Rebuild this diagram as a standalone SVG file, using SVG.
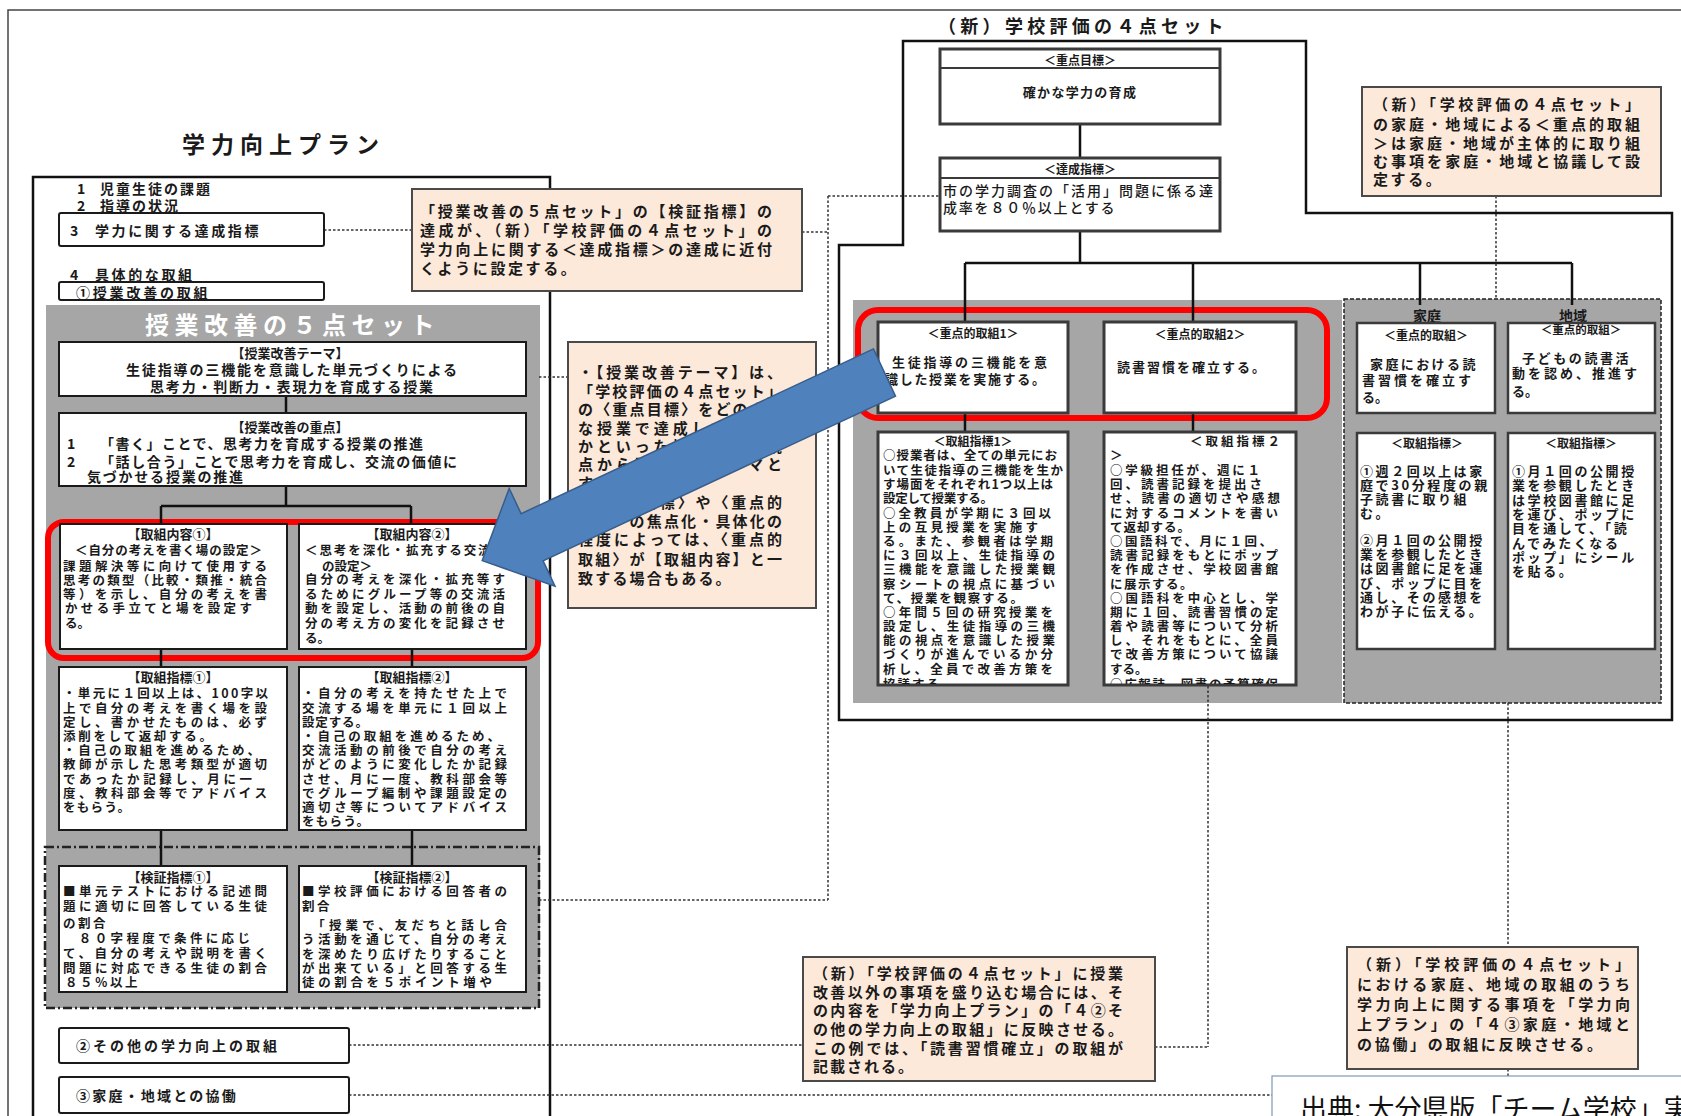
<svg xmlns="http://www.w3.org/2000/svg" width="1681" height="1116" viewBox="0 0 1681 1116">
<style>
.j{font-family:"Noto Sans CJK JP","Noto Sans CJK SC",sans-serif;font-weight:700;fill:#1a1a1a;dominant-baseline:central}
.f12{font-size:12px}.f125{font-size:12.5px}.f13{font-size:13px}.f14{font-size:14px}.f15{font-size:15px}
.c{text-anchor:middle}
.box{fill:#fff;stroke:#1a1a1a;stroke-width:2}
.rbox{fill:#fff;stroke:#3a3a3a;stroke-width:3}
.call{fill:#fce9da;stroke:#4a4a4a;stroke-width:2}
.ln{stroke:#111;stroke-width:2.5;fill:none}
.dot{stroke:#333;stroke-width:1.5;stroke-dasharray:2.5 2;fill:none}
.red{fill:none;stroke:#ff0000;stroke-width:6}
.gray{fill:#a6a6a6}
.ls{letter-spacing:2.6px}
</style>
<defs>
<clipPath id="cp1"><rect x="878" y="432" width="190" height="252"/></clipPath>
<clipPath id="cp2"><rect x="1104" y="432" width="192" height="252"/></clipPath>
</defs>
<rect width="1681" height="1116" fill="#fff"/>
<g id="outer-frame">
<path d="M8 1116 V10 H1681" fill="none" stroke="#444" stroke-width="1.5"/>
</g>
<g id="left-title"><text class="j" x="182" y="143" style="font-size:23px;letter-spacing:6px">学力向上プラン</text></g>
<g id="left-frame"><rect x="33" y="177" width="517" height="960" fill="none" stroke="#111" stroke-width="2.5"/></g>
<g id="right-title"><text class="j" x="938" y="25" style="font-size:18px;letter-spacing:4.3px">（新）学校評価の４点セット</text></g>
<g id="right-frame"><path d="M903 41 H1306 V213 H1672 V720 H839 V245 H903 Z" class="ln"/></g>
<g id="panels">
<rect class="gray" x="46" y="305" width="494" height="703"/>
<rect x="45" y="847" width="494" height="161" fill="none" stroke="#222" stroke-width="2.5" stroke-dasharray="9 3 2 3"/>
<rect class="gray" x="853" y="300" width="489" height="403"/>
<rect class="gray" x="1344" y="299" width="317" height="404" stroke="#222" stroke-width="1.5" stroke-dasharray="4 2"/>
<text class="j" x="145" y="323" style="font-size:24px;letter-spacing:5.5px;fill:#fff">授業改善の５点セット</text>
</g>
<g id="highlights">
<rect class="red" x="48" y="522" width="490" height="136" rx="16"/>
<rect class="red" x="858" y="310" width="469" height="108" rx="20"/>
</g>
<g id="connectors">
<path class="ln" d="M286 396 V413 M286 486 V506 M161 506 H411 M161 506 V524 M411 506 V524 M161 649 V667 M412 649 V667 M161 830 V866 M412 830 V866"/>
<path class="ln" d="M1080 124 V158 M1080 231 V263 M965 263 H1572 M965 263 V322 M1193 263 V322 M1420 263 V305 M1572 263 V305 M965 413 V432 M1193 413 V432"/>
<path class="dot" d="M324 230 H412 M802 232 H828 M828 196 V900 M828 196 H940 M539 900 H828 M539 377 H568 M349 1045 H803 M1155 1047 H1208 M1208 686 V1047 M349 1095 H1272 M1496 196 V299 M1508 703 V947 M1508 1069 V1076"/>
</g>
<g id="n-item12">
<text class="j f14" x="77" y="188">1</text><text class="j f14" x="100" y="188" style="letter-spacing:2px">児童生徒の課題</text>
<text class="j f14" x="77" y="205">2</text><text class="j f14" x="100" y="205" style="letter-spacing:2px">指導の状況</text>
</g>
<g id="n-item3"><rect class="box" x="59" y="213" width="265" height="33" rx="2"/>
<text class="j f14" x="70" y="230">3</text><text class="j f14" x="95" y="230" style="letter-spacing:2.6px">学力に関する達成指標</text></g>
<g id="n-item4"><text class="j f14" x="70" y="274">4</text><text class="j f14" x="95" y="274" style="letter-spacing:2.6px">具体的な取組</text></g>
<g id="n-item4-1"><rect class="box" x="59" y="282" width="265" height="18" rx="2"/>
<text class="j f14" x="76" y="292" style="letter-spacing:2.8px">①授業改善の取組</text></g>
<g id="n-theme"><rect class="box" x="59" y="342" width="467" height="54"/>
<text class="j f13 c" x="290" y="352">【授業改善テーマ】</text>
<text class="j f14" x="126" y="369" textLength="331" lengthAdjust="spacing">生徒指導の三機能を意識した単元づくりによる</text>
<text class="j f14" x="150" y="386" textLength="283" lengthAdjust="spacing">思考力・判断力・表現力を育成する授業</text></g>
<g id="n-focus"><rect class="box" x="59" y="413" width="467" height="73"/>
<text class="j f13 c" x="290" y="426">【授業改善の重点】</text>
<text class="j f14" x="67" y="443">1</text><text class="j f14" x="100" y="443" textLength="323" lengthAdjust="spacing">「書く」ことで、思考力を育成する授業の推進</text>
<text class="j f14" x="67" y="461">2</text><text class="j f14" x="100" y="461" textLength="357" lengthAdjust="spacing">「話し合う」ことで思考力を育成し、交流の価値に</text>
<text class="j f14" x="87" y="476" textLength="156" lengthAdjust="spacing">気づかせる授業の推進</text></g>
<g id="n-content1"><rect class="box" x="60" y="524" width="227" height="125"/>
<text class="j f13 c" x="173" y="533">【取組内容①】</text>
<text class="j f125" x="75" y="549" textLength="187" lengthAdjust="spacing">＜自分の考えを書く場の設定＞</text>
<text class="j f125" x="63" y="565" textLength="204" lengthAdjust="spacing">課題解決等に向けて使用する</text>
<text class="j f125" x="63" y="579" textLength="204" lengthAdjust="spacing">思考の類型（比較・類推・統合</text>
<text class="j f125" x="63" y="593" textLength="204" lengthAdjust="spacing">等）を示し、自分の考えを書</text>
<text class="j f125" x="65" y="607" textLength="187" lengthAdjust="spacing">かせる手立てと場を設定す</text>
<text class="j f125" x="65" y="622">る。</text></g>
<g id="n-content2"><rect class="box" x="299" y="524" width="227" height="125"/>
<text class="j f13 c" x="412" y="533">【取組内容②】</text>
<text class="j f125" x="305" y="549" textLength="200" lengthAdjust="spacing">＜思考を深化・拡充する交流場</text>
<text class="j f125" x="322" y="565">の設定＞</text>
<text class="j f125" x="305" y="578" textLength="200" lengthAdjust="spacing">自分の考えを深化・拡充等す</text>
<text class="j f125" x="305" y="593" textLength="200" lengthAdjust="spacing">るためにグループ等の交流活</text>
<text class="j f125" x="305" y="607" textLength="200" lengthAdjust="spacing">動を設定し、活動の前後の自</text>
<text class="j f125" x="305" y="622" textLength="200" lengthAdjust="spacing">分の考え方の変化を記録させ</text>
<text class="j f125" x="305" y="637">る。</text></g>
<g id="n-index1"><rect class="box" x="59" y="667" width="228" height="163"/>
<text class="j f13 c" x="173" y="676">【取組指標①】</text>
<text class="j f125" x="63" y="692" textLength="205" lengthAdjust="spacing">・単元に１回以上は、100字以</text>
<text class="j f125" x="63" y="707" textLength="204" lengthAdjust="spacing">上で自分の考えを書く場を設</text>
<text class="j f125" x="63" y="721" textLength="204" lengthAdjust="spacing">定し、書かせたものは、必ず</text>
<text class="j f125" x="63" y="735" textLength="149" lengthAdjust="spacing">添削をして返却する。</text>
<text class="j f125" x="63" y="749" textLength="197" lengthAdjust="spacing">・自己の取組を進めるため、</text>
<text class="j f125" x="63" y="763" textLength="204" lengthAdjust="spacing">教師が示した思考類型が適切</text>
<text class="j f125" x="63" y="778" textLength="189" lengthAdjust="spacing">であったか記録し、月に一</text>
<text class="j f125" x="63" y="792" textLength="204" lengthAdjust="spacing">度、教科部会等でアドバイス</text>
<text class="j f125" x="63" y="806" textLength="67" lengthAdjust="spacing">をもらう。</text></g>
<g id="n-index2"><rect class="box" x="299" y="667" width="227" height="163"/>
<text class="j f13 c" x="412" y="676">【取組指標②】</text>
<text class="j f125" x="302" y="692" textLength="205" lengthAdjust="spacing">・自分の考えを持たせた上で</text>
<text class="j f125" x="302" y="707" textLength="205" lengthAdjust="spacing">交流する場を単元に１回以上</text>
<text class="j f125" x="302" y="721" textLength="66" lengthAdjust="spacing">設定する。</text>
<text class="j f125" x="302" y="735" textLength="198" lengthAdjust="spacing">・自己の取組を進めるため、</text>
<text class="j f125" x="302" y="749" textLength="205" lengthAdjust="spacing">交流活動の前後で自分の考え</text>
<text class="j f125" x="302" y="763" textLength="205" lengthAdjust="spacing">がどのように変化したか記録</text>
<text class="j f125" x="302" y="778" textLength="205" lengthAdjust="spacing">させ、月に一度、教科部会等</text>
<text class="j f125" x="302" y="792" textLength="205" lengthAdjust="spacing">でグループ編制や課題設定の</text>
<text class="j f125" x="302" y="806" textLength="205" lengthAdjust="spacing">適切さ等についてアドバイス</text>
<text class="j f125" x="302" y="820" textLength="67" lengthAdjust="spacing">をもらう。</text></g>
<g id="n-verify1"><rect class="box" x="59" y="866" width="228" height="126"/>
<text class="j f13 c" x="173" y="876">【検証指標①】</text>
<text class="j f125" x="63" y="890" textLength="204" lengthAdjust="spacing">■単元テストにおける記述問</text>
<text class="j f125" x="63" y="905" textLength="204" lengthAdjust="spacing">題に適切に回答している生徒</text>
<text class="j f125" x="63" y="922" style="letter-spacing:2.5px">の割合</text>
<text class="j f125" x="63" y="937" textLength="187" lengthAdjust="spacing">　８０字程度で条件に応じ</text>
<text class="j f125" x="63" y="952" textLength="204" lengthAdjust="spacing">て、自分の考えや説明を書く</text>
<text class="j f125" x="63" y="967" textLength="204" lengthAdjust="spacing">問題に対応できる生徒の割合</text>
<text class="j f125" x="65" y="981" style="letter-spacing:2.5px">８５％以上</text></g>
<g id="n-verify2"><rect class="box" x="299" y="866" width="227" height="126"/>
<text class="j f13 c" x="412" y="876">【検証指標②】</text>
<text class="j f125" x="302" y="890" textLength="205" lengthAdjust="spacing">■学校評価における回答者の</text>
<text class="j f125" x="302" y="905" style="letter-spacing:2.5px">割合</text>
<text class="j f125" x="302" y="924" textLength="205" lengthAdjust="spacing">　「授業で、友だちと話し合</text>
<text class="j f125" x="302" y="938" textLength="205" lengthAdjust="spacing">う活動を通じて、自分の考え</text>
<text class="j f125" x="302" y="953" textLength="205" lengthAdjust="spacing">を深めたり広げたりすること</text>
<text class="j f125" x="302" y="967" textLength="205" lengthAdjust="spacing">が出来ている」と回答する生</text>
<text class="j f125" x="302" y="981" textLength="190" lengthAdjust="spacing">徒の割合を５ポイント増や</text></g>
<g id="n-other"><rect class="box" x="59" y="1028" width="290" height="35" rx="2"/>
<text class="j f14" x="76" y="1045" style="letter-spacing:3px">②その他の学力向上の取組</text></g>
<g id="n-home"><rect class="box" x="59" y="1077" width="290" height="36" rx="2"/>
<text class="j f14" x="76" y="1095" style="letter-spacing:2.2px">③家庭・地域との協働</text></g>
<g id="n-goal"><rect class="rbox" x="940" y="49" width="280" height="75"/><line x1="940" y1="68" x2="1220" y2="68" stroke="#3a3a3a" stroke-width="2"/>
<text class="j f12 c" x="1080" y="59">＜重点目標＞</text>
<text class="j f13 c" x="1080" y="91" style="letter-spacing:1.3px">確かな学力の育成</text></g>
<g id="n-target"><rect class="rbox" x="940" y="158" width="280" height="73"/><line x1="940" y1="178" x2="1220" y2="178" stroke="#3a3a3a" stroke-width="2"/>
<text class="j f12 c" x="1080" y="168">＜達成指標＞</text>
<text class="j f14" x="943" y="190" style="font-weight:500" textLength="270" lengthAdjust="spacing">市の学力調査の「活用」問題に係る達</text>
<text class="j f14" x="943" y="207" style="font-weight:500;letter-spacing:1.8px">成率を８０％以上とする</text></g>
<g id="n-key1"><rect class="rbox" x="878" y="322" width="190" height="91"/>
<text class="j f12 c" x="973" y="332">＜重点的取組1＞</text>
<text class="j f13" x="892" y="361" textLength="155" lengthAdjust="spacing">生徒指導の三機能を意</text>
<text class="j f13" x="885" y="378" textLength="160" lengthAdjust="spacing">識した授業を実施する。</text></g>
<g id="n-key2"><rect class="rbox" x="1104" y="322" width="192" height="91"/>
<text class="j f12 c" x="1200" y="333">＜重点的取組2＞</text>
<text class="j f13" x="1117" y="366" textLength="148" lengthAdjust="spacing">読書習慣を確立する。</text></g>
<g id="n-kidx1"><rect class="rbox" x="878" y="432" width="190" height="253"/>
<g clip-path="url(#cp1)">
<text class="j f12 c" x="973" y="440">＜取組指標1＞</text>
<text class="j f125" x="883" y="454" textLength="174" lengthAdjust="spacing">○授業者は、全ての単元にお</text>
<text class="j f125" x="883" y="469" textLength="180" lengthAdjust="spacing">いて生徒指導の三機能を生か</text>
<text class="j f125" x="883" y="483" textLength="170" lengthAdjust="spacing">す場面をそれぞれ1つ以上は</text>
<text class="j f125" x="883" y="497" textLength="110" lengthAdjust="spacing">設定して授業する。</text>
<text class="j f125" x="883" y="512" textLength="168" lengthAdjust="spacing">○全教員が学期に３回以</text>
<text class="j f125" x="883" y="526" textLength="155" lengthAdjust="spacing">上の互見授業を実施す</text>
<text class="j f125" x="883" y="540" textLength="170" lengthAdjust="spacing">る。また、参観者は学期</text>
<text class="j f125" x="883" y="554" textLength="172" lengthAdjust="spacing">に３回以上、生徒指導の</text>
<text class="j f125" x="883" y="568" textLength="172" lengthAdjust="spacing">三機能を意識した授業観</text>
<text class="j f125" x="883" y="583" textLength="172" lengthAdjust="spacing">察シートの視点に基づい</text>
<text class="j f125" x="883" y="597" textLength="140" lengthAdjust="spacing">て、授業を観察する。</text>
<text class="j f125" x="883" y="611" textLength="170" lengthAdjust="spacing">○年間５回の研究授業を</text>
<text class="j f125" x="883" y="625" textLength="172" lengthAdjust="spacing">設定し、生徒指導の三機</text>
<text class="j f125" x="883" y="639" textLength="172" lengthAdjust="spacing">能の視点を意識した授業</text>
<text class="j f125" x="883" y="653" textLength="170" lengthAdjust="spacing">づくりが進んでいるか分</text>
<text class="j f125" x="883" y="668" textLength="170" lengthAdjust="spacing">析し、全員で改善方策を</text>
<text class="j f125" x="883" y="683" style="letter-spacing:2px">協議する。</text></g></g>
<g id="n-kidx2"><rect class="rbox" x="1104" y="432" width="192" height="253"/>
<g clip-path="url(#cp2)">
<text class="j f125" x="1190" y="440" textLength="90" lengthAdjust="spacing">＜取組指標２</text>
<text class="j f125" x="1110" y="454">＞</text>
<text class="j f125" x="1110" y="469" textLength="150" lengthAdjust="spacing">○学級担任が、週に１</text>
<text class="j f125" x="1110" y="483" textLength="152" lengthAdjust="spacing">回、読書記録を提出さ</text>
<text class="j f125" x="1110" y="497" textLength="170" lengthAdjust="spacing">せ、読書の適切さや感想</text>
<text class="j f125" x="1110" y="512" textLength="168" lengthAdjust="spacing">に対するコメントを書い</text>
<text class="j f125" x="1110" y="526" style="letter-spacing:1px">て返却する。</text>
<text class="j f125" x="1110" y="540" textLength="162" lengthAdjust="spacing">○国語科で、月に１回、</text>
<text class="j f125" x="1110" y="554" textLength="168" lengthAdjust="spacing">読書記録をもとにポップ</text>
<text class="j f125" x="1110" y="568" textLength="168" lengthAdjust="spacing">を作成させ、学校図書館</text>
<text class="j f125" x="1110" y="583" style="letter-spacing:1.5px">に展示する。</text>
<text class="j f125" x="1110" y="597" textLength="168" lengthAdjust="spacing">○国語科を中心とし、学</text>
<text class="j f125" x="1110" y="611" textLength="168" lengthAdjust="spacing">期に１回、読書習慣の定</text>
<text class="j f125" x="1110" y="625" textLength="168" lengthAdjust="spacing">着や読書等について分析</text>
<text class="j f125" x="1110" y="639" textLength="168" lengthAdjust="spacing">し、それをもとに、全員</text>
<text class="j f125" x="1110" y="653" textLength="168" lengthAdjust="spacing">で改善方策について協議</text>
<text class="j f125" x="1110" y="668">する。</text>
<text class="j f125" x="1110" y="683" textLength="168" lengthAdjust="spacing">○広報誌、図書の予算確保</text></g></g>
<g id="n-family">
<text class="j f14 c" x="1427" y="315">家庭</text>
<rect class="rbox" x="1357" y="323" width="138" height="90" style="stroke-width:2.5"/>
<text class="j f12 c" x="1426" y="334">＜重点的取組＞</text>
<text class="j f13" x="1370" y="363" style="letter-spacing:2.4px">家庭における読</text>
<text class="j f13" x="1362" y="379" style="letter-spacing:3px">書習慣を確立す</text>
<text class="j f13" x="1362" y="396">る。</text>
<rect class="rbox" x="1357" y="433" width="138" height="216" style="stroke-width:2.5"/>
<text class="j f12 c" x="1427" y="442">＜取組指標＞</text>
<text class="j f13 ls" x="1360" y="470">①週２回以上は家</text>
<text class="j f13 ls" x="1360" y="484">庭で30分程度の親</text>
<text class="j f13 ls" x="1360" y="498">子読書に取り組</text>
<text class="j f13 ls" x="1360" y="512">む。</text>
<text class="j f13 ls" x="1360" y="539">②月１回の公開授</text>
<text class="j f13 ls" x="1360" y="553">業を参観したとき</text>
<text class="j f13 ls" x="1360" y="567">は図書館に足を運</text>
<text class="j f13 ls" x="1360" y="582">び、ポップに目を</text>
<text class="j f13 ls" x="1360" y="596">通し、その感想を</text>
<text class="j f13 ls" x="1360" y="610">わが子に伝える。</text>
</g>
<g id="n-community">
<text class="j f14 c" x="1573" y="315">地域</text>
<rect class="rbox" x="1508" y="323" width="147" height="90" style="stroke-width:2.5"/>
<text class="j c" x="1581" y="329" style="font-size:11.5px">＜重点的取組＞</text>
<text class="j f13" x="1522" y="357" style="letter-spacing:2.6px">子どもの読書活</text>
<text class="j f13" x="1512" y="372" style="letter-spacing:3px">動を認め、推進す</text>
<text class="j f13" x="1512" y="390">る。</text>
<rect class="rbox" x="1508" y="433" width="147" height="216" style="stroke-width:2.5"/>
<text class="j f12 c" x="1581" y="442">＜取組指標＞</text>
<text class="j f13 ls" x="1512" y="470">①月１回の公開授</text>
<text class="j f13 ls" x="1512" y="484">業を参観したとき</text>
<text class="j f13 ls" x="1512" y="499">は学校図書館に足</text>
<text class="j f13 ls" x="1512" y="513">を運び、ポップに</text>
<text class="j f13 ls" x="1512" y="527">目を通して、「読</text>
<text class="j f13 ls" x="1512" y="542">んでみたくなる</text>
<text class="j f13 ls" x="1512" y="556">ポップ」にシール</text>
<text class="j f13 ls" x="1512" y="570">を貼る。</text>
</g>
<g id="n-note1"><rect class="call" x="412" y="189" width="390" height="102"/>
<text class="j f15" x="420" y="210" textLength="352" lengthAdjust="spacing">「授業改善の５点セット」の【検証指標】の</text>
<text class="j f15" x="420" y="229" textLength="352" lengthAdjust="spacing">達成が、（新）「学校評価の４点セット」の</text>
<text class="j f15" x="420" y="248" textLength="352" lengthAdjust="spacing">学力向上に関する＜達成指標＞の達成に近付</text>
<text class="j f15" x="420" y="267" style="letter-spacing:2.6px">くように設定する。</text></g>
<g id="n-note2"><rect class="call" x="568" y="342" width="248" height="266"/>
<text class="j f15" x="578" y="371" textLength="204" lengthAdjust="spacing">・【授業改善テーマ】は、</text>
<text class="j f15" x="578" y="390" textLength="204" lengthAdjust="spacing">「学校評価の４点セット」</text>
<text class="j f15" x="578" y="408" textLength="204" lengthAdjust="spacing">の〈重点目標〉をどのよう</text>
<text class="j f15" x="578" y="427" textLength="204" lengthAdjust="spacing">な授業で達成していくの</text>
<text class="j f15" x="578" y="445" textLength="204" lengthAdjust="spacing">かといった授業改善の視</text>
<text class="j f15" x="578" y="463" textLength="204" lengthAdjust="spacing">点から設定し、テーマと</text>
<text class="j f15" x="578" y="482" style="letter-spacing:2px">する。</text>
<text class="j f15" x="578" y="501" textLength="204" lengthAdjust="spacing">・〈重点目標〉や〈重点的</text>
<text class="j f15" x="578" y="520" textLength="204" lengthAdjust="spacing">取組〉の焦点化・具体化の</text>
<text class="j f15" x="578" y="538" textLength="204" lengthAdjust="spacing">程度によっては、〈重点的</text>
<text class="j f15" x="578" y="558" textLength="204" lengthAdjust="spacing">取組〉が【取組内容】と一</text>
<text class="j f15" x="578" y="577" style="letter-spacing:2.2px">致する場合もある。</text></g>
<g id="n-note3"><rect class="call" x="1362" y="87" width="299" height="109"/>
<text class="j f15" x="1373" y="103" textLength="267" lengthAdjust="spacing">（新）「学校評価の４点セット」</text>
<text class="j f15" x="1373" y="123" textLength="267" lengthAdjust="spacing">の家庭・地域による＜重点的取組</text>
<text class="j f15" x="1373" y="142" textLength="267" lengthAdjust="spacing">＞は家庭・地域が主体的に取り組</text>
<text class="j f15" x="1373" y="160" textLength="267" lengthAdjust="spacing">む事項を家庭・地域と協議して設</text>
<text class="j f15" x="1373" y="178" style="letter-spacing:2.6px">定する。</text></g>
<g id="n-note4"><rect class="call" x="803" y="957" width="352" height="124"/>
<text class="j f15" x="813" y="972" textLength="310" lengthAdjust="spacing">（新）「学校評価の４点セット」に授業</text>
<text class="j f15" x="813" y="991" textLength="310" lengthAdjust="spacing">改善以外の事項を盛り込む場合には、そ</text>
<text class="j f15" x="813" y="1009" textLength="310" lengthAdjust="spacing">の内容を「学力向上プラン」の「４②そ</text>
<text class="j f15" x="813" y="1028" textLength="310" lengthAdjust="spacing">の他の学力向上の取組」に反映させる。</text>
<text class="j f15" x="813" y="1047" textLength="310" lengthAdjust="spacing">この例では、「読書習慣確立」の取組が</text>
<text class="j f15" x="813" y="1065" style="letter-spacing:2px">記載される。</text></g>
<g id="n-note5"><rect class="call" x="1347" y="947" width="291" height="122"/>
<text class="j f15" x="1357" y="963" textLength="273" lengthAdjust="spacing">（新）「学校評価の４点セット」</text>
<text class="j f15" x="1357" y="983" textLength="273" lengthAdjust="spacing">における家庭、地域の取組のうち</text>
<text class="j f15" x="1357" y="1003" textLength="273" lengthAdjust="spacing">学力向上に関する事項を「学力向</text>
<text class="j f15" x="1357" y="1023" textLength="273" lengthAdjust="spacing">上プラン」の「４③家庭・地域と</text>
<text class="j f15" x="1357" y="1043" textLength="245" lengthAdjust="spacing">の協働」の取組に反映させる。</text></g>
<g id="arrow">
<polygon points="873.5,348.9 521.1,513.7 509.2,488.4 482.2,560.6 555,586.2 543.1,560.9 895.5,396.1" fill="#4f81bd" stroke="#385d8a" stroke-width="1.5"/>
</g>
<g id="source"><rect x="1272" y="1076" width="420" height="60" fill="#fff" stroke="#7f98b8" stroke-width="1.2"/>
<text x="1300" y="1119" style="font-family:'Noto Sans CJK JP',sans-serif;font-size:27px;fill:#111">出典: 大分県版「チーム学校」実</text></g>
</svg>
